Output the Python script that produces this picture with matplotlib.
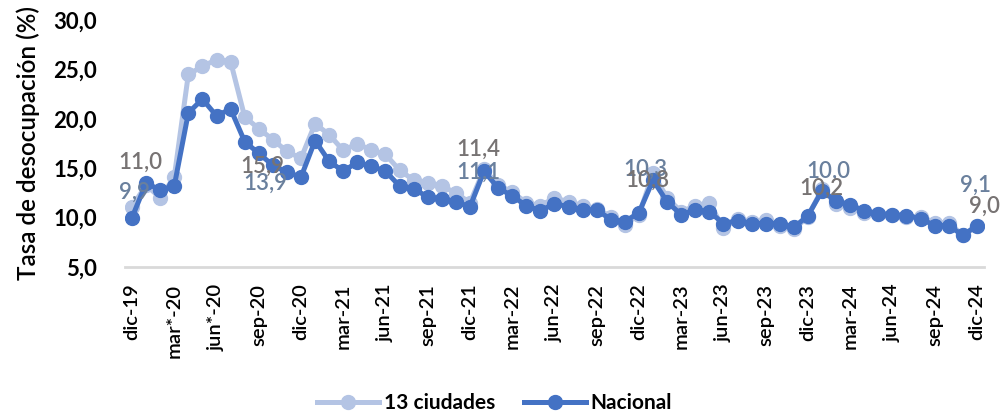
import numpy as np
import matplotlib
matplotlib.use("Agg")
import matplotlib.pyplot as plt

# Monthly unemployment rate, dic-19 .. dic-24
meses = ["dic", "ene", "feb", "mar", "abr", "may", "jun", "jul", "ago", "sep", "oct", "nov"]
fechas = ["dic-19"] + [f"{m}-{a}" for a in range(20, 25) for m in meses[1:] + ["dic"]]
fechas = [f.replace("mar-20", "mar*-20").replace("jun-20", "jun*-20") for f in fechas]

ciudades13 = [11.1, 13.3, 12.0, 14.1, 24.5, 25.3, 26.0, 25.8, 20.2, 19.0, 17.9, 16.7, 16.0,
              19.5, 18.4, 16.8, 17.5, 16.8, 16.4, 14.8, 13.8, 13.5, 13.2, 12.5, 11.5,
              14.9, 13.3, 12.6, 11.5, 11.2, 12.0, 11.6, 11.2, 10.9, 10.1, 9.3, 10.3,
              14.5, 12.0, 10.6, 11.2, 11.5, 8.9, 9.9, 9.6, 9.8, 9.2, 8.8, 10.1,
              12.9, 11.4, 11.0, 10.5, 10.4, 10.3, 10.1, 10.1, 9.5, 9.5, 8.2, 9.1]
nacional = [10.0, 13.5, 12.8, 13.2, 20.6, 22.0, 20.3, 21.0, 17.7, 16.5, 15.3, 14.6, 14.1,
            17.8, 15.7, 14.7, 15.6, 15.2, 14.7, 13.2, 12.9, 12.1, 11.9, 11.6, 11.1,
            14.7, 13.0, 12.2, 11.2, 10.7, 11.4, 11.1, 10.8, 10.8, 9.8, 9.6, 10.5,
            13.8, 11.6, 10.3, 10.8, 10.6, 9.4, 9.7, 9.4, 9.4, 9.4, 9.0, 10.2,
            12.7, 11.7, 11.3, 10.7, 10.4, 10.3, 10.2, 9.9, 9.2, 9.2, 8.2, 9.2]

# data labels: (series, index, text)
etiquetas = [("c", 0, "11,0"), ("n", 0, "9,9"),
             ("c", 9, "15,9"), ("n", 9, "13,9"),
             ("c", 25, "11,4"), ("n", 25, "11,1"),
             ("n", 37, "10,3"), ("c", 37, "10,8"),
             ("n", 49, "10,0"), ("c", 49, "10,2"),
             ("n", 60, "9,1"), ("c", 60, "9,0")]
# offsets in pixels for each label
desplaz = [(8, 44), (2, 25), (4, -38), (7, -30), (-6, 20), (-6, -1),
           (-8, 11), (-6, -7), (6, 20), (-1, 1), (-1, 40), (8, 20)]

plt.rcParams['font.family'] = ['Lato', 'DejaVu Sans']

c_claro = "#B4C4E4"
c_osc = "#4472C4"

fig = plt.figure(figsize=(10.03, 4.17), dpi=100)
ax = fig.add_axes([0.1246, 0.3597, 0.8564, 0.5923])
x = np.arange(len(nacional))

ax.plot(x, ciudades13, color=c_claro, lw=3.6, marker="o", ms=10, label="13 ciudades")
ax.plot(x, nacional, color=c_osc, lw=3.6, marker="o", ms=10, label="Nacional")

for (serie, i, txt), (dx, dy) in zip(etiquetas, desplaz):
    y = ciudades13[i] if serie == "c" else nacional[i]
    col = "#777373" if serie == "c" else "#6A809D"
    ax.annotate(txt, (i, y), xytext=(dx, dy), textcoords="offset pixels",
                ha="center", va="center", fontsize=16, color=col, fontweight="semibold")

ax.set_xlim(-0.5, 60.5)
ax.set_ylim(5, 30)
ax.set_yticks(np.arange(5, 31, 5))
ax.set_yticklabels([f"{v:.1f}".replace(".", ",") for v in np.arange(5, 31, 5)],
                   fontsize=16, fontweight="bold")
ax.set_xticks(x[::3])
ax.set_xticklabels(fechas[::3], rotation=90, fontsize=14.5, fontweight="semibold")
ax.tick_params(axis="both", length=0)
ax.tick_params(axis="y", pad=20)
ax.tick_params(axis="x", pad=12)

for s in ["top", "right", "left"]:
    ax.spines[s].set_visible(False)
ax.spines["bottom"].set_color("#D9D9D9")
ax.spines["bottom"].set_linewidth(2)

fig.text(0.028, 0.657, "Tasa de desocupación (%)", rotation=90, ha="center", va="center",
         fontsize=17.5, fontweight="semibold")

fig.legend(loc="center", bbox_to_anchor=(0.493, 0.033), ncol=2, frameon=False,
           prop={"size": 15, "weight": "bold"}, handlelength=3.0, columnspacing=1.4,
           handletextpad=0.2)

fig.savefig("out.png", dpi=100)
